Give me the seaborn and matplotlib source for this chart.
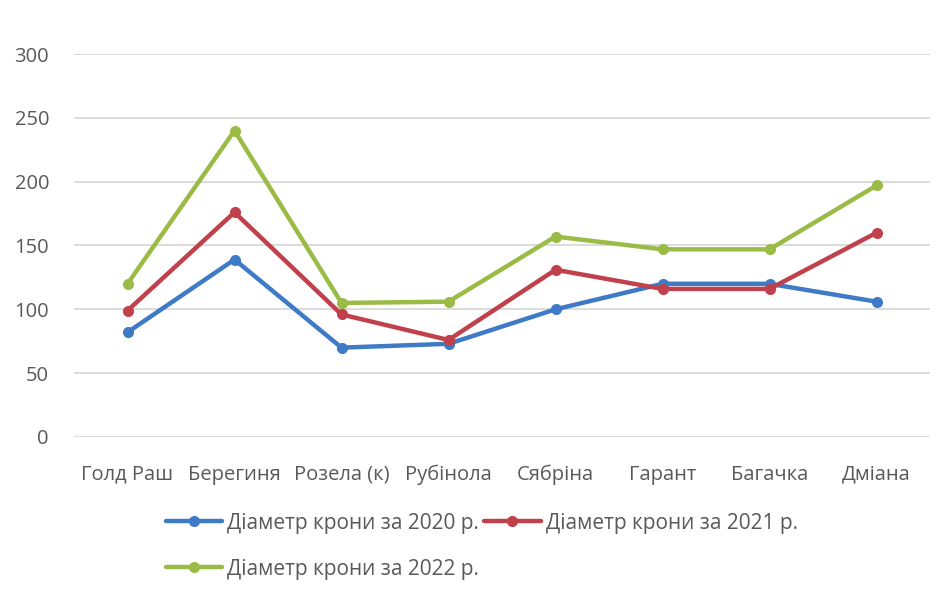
import matplotlib
matplotlib.use("Agg")
import matplotlib.pyplot as plt
import seaborn as sns
import pandas as pd

categories = ["Голд Раш", "Берегиня", "Розела (к)", "Рубінола", "Сябріна", "Гарант", "Багачка", "Дміана"]
series_names = ["Діаметр крони за 2020 р.", "Діаметр крони за 2021 р.", "Діаметр крони за 2022 р."]
v2020 = [82, 139, 70, 73, 100, 120, 120, 106]
v2021 = [99, 176, 96, 76, 131, 116, 116, 160]
v2022 = [120, 240, 105, 106, 157, 147, 147, 197]
yticks = [0, 50, 100, 150, 200, 250, 300]
colors = ["#3f7ac6", "#c0404b", "#9bbb47"]

rows = []
for name, vals in zip(series_names, [v2020, v2021, v2022]):
    for c, v in zip(categories, vals):
        rows.append({"cat": c, "val": v, "series": name})
df = pd.DataFrame(rows)

sns.set_theme(style="white")
plt.rcParams["font.family"] = ["Open Sans", "DejaVu Sans"]

fig = plt.figure(figsize=(9.42, 5.95), dpi=100)
ax = fig.add_axes([74/942, 1-437/595, (930-74)/942, (437-54)/595])

sns.lineplot(data=df, x="cat", y="val", hue="series", palette=colors,
             marker="o", markersize=8, markeredgewidth=0, linewidth=3.2,
             sort=False, ax=ax)

ax.set_ylim(0, 300)
ax.set_xlim(-0.5, len(categories) - 0.5)
ax.set_yticks(yticks)
ax.set_yticklabels([str(t) for t in yticks])
ax.yaxis.grid(True, color="#d9d9d9", linewidth=1.3)
ax.set_axisbelow(True)
for s in ax.spines.values():
    s.set_visible(False)
ax.set_xlabel("")
ax.set_ylabel("")
ax.tick_params(axis="y", labelsize=14.5, colors="#595959", pad=18, length=0)
ax.tick_params(axis="x", labelsize=14.5, colors="#595959", pad=20, length=0)

handles, labels = ax.get_legend_handles_labels()
ax.legend_.remove()
order = [0, 2, 1]
leg = fig.legend([handles[i] for i in order], [labels[i] for i in order],
                 ncol=2, loc="upper left",
                 bbox_to_anchor=(147/942, 1-494/595), frameon=False,
                 fontsize=15, handlelength=2.7, handletextpad=0.25,
                 columnspacing=0.25, labelspacing=1.2, markerscale=1.0)
for t in leg.get_texts():
    t.set_color("#595959")

fig.savefig("out.png", dpi=100, facecolor="white")
